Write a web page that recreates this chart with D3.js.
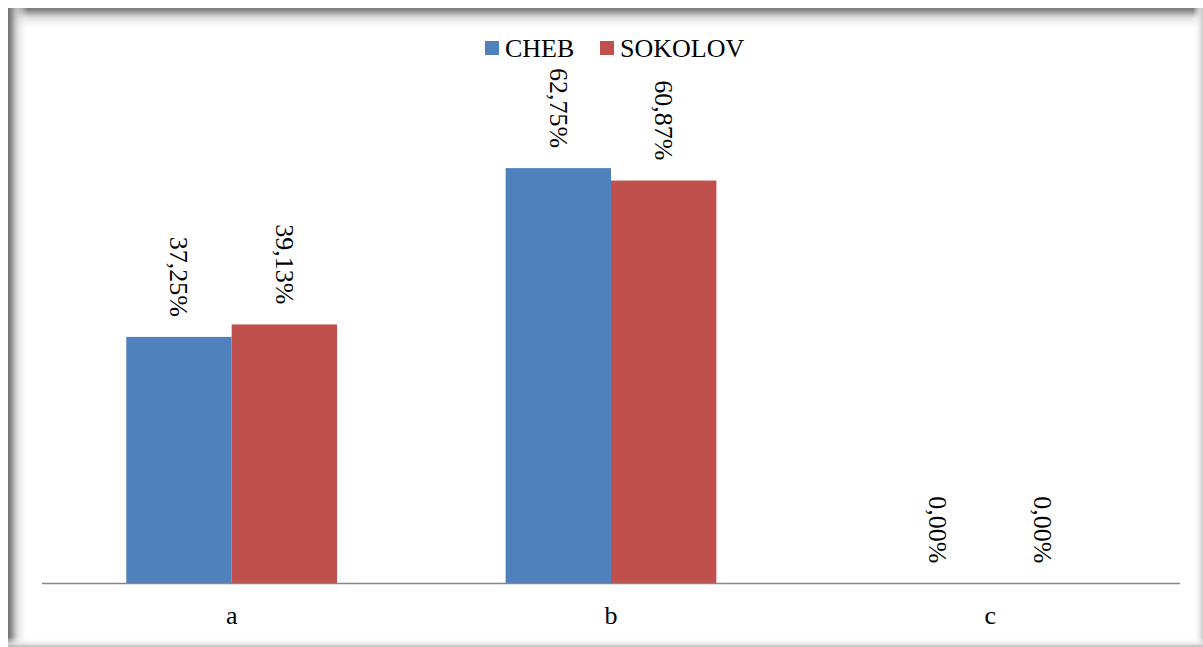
<!DOCTYPE html>
<html>
<head>
<meta charset="utf-8">
<script src="https://cdn.jsdelivr.net/npm/d3@7"></script>
<style>
  html, body { margin: 0; padding: 0; background: #ffffff; }
  svg { display: block; }
</style>
</head>
<body>
<svg id="chart" width="1203" height="647"></svg>
<script>
// Share of answers per option, by group
const categories = ["a", "b", "c"];
const seriesNames = ["CHEB", "SOKOLOV"];
const chebValues = [0.3725, 0.6275, 0.0];
const sokolovValues = [0.3913, 0.6087, 0.0];
const seriesColors = ["#4f81bd", "#c0504d"];

const W = 1203, H = 647;
const svg = d3.select("#chart");
const defs = svg.append("defs");

// Frame with a soft inner shadow along the edges
const frame = { x: 8, y: 8, w: W - 8, h: H - 8 };
svg.append("rect").attr("x", frame.x).attr("y", frame.y)
  .attr("width", frame.w).attr("height", frame.h).attr("fill", "#ffffff");

function edgeGradient(id, x1, y1, x2, y2, stops) {
  const g = defs.append("linearGradient").attr("id", id)
    .attr("x1", x1).attr("y1", y1).attr("x2", x2).attr("y2", y2);
  stops.forEach(s => g.append("stop").attr("offset", s[0])
    .attr("stop-color", s[1]).attr("stop-opacity", s[2]));
}
edgeGradient("shTop", 0, 0, 0, 1, [[0, "#7a7a7a", 1], [0.12, "#8a8a8a", 1], [0.45, "#d8d8d8", 0.8], [1, "#ffffff", 0]]);
edgeGradient("shLeft", 0, 0, 1, 0, [[0, "#707070", 1], [0.15, "#8a8a8a", 1], [0.45, "#d0d0d0", 0.8], [1, "#ffffff", 0]]);
edgeGradient("shRight", 1, 0, 0, 0, [[0, "#c8c8c8", 1], [0.4, "#e8e8e8", 0.8], [1, "#ffffff", 0]]);
edgeGradient("shBottom", 0, 1, 0, 0, [[0, "#b8b8b8", 1], [0.35, "#e6e6e6", 0.8], [1, "#ffffff", 0]]);

svg.append("rect").attr("x", frame.x).attr("y", frame.y).attr("width", frame.w).attr("height", 22).attr("fill", "url(#shTop)");
svg.append("rect").attr("x", frame.x).attr("y", frame.y).attr("width", 20).attr("height", frame.h).attr("fill", "url(#shLeft)");
svg.append("rect").attr("x", W - 10).attr("y", frame.y).attr("width", 10).attr("height", frame.h).attr("fill", "url(#shRight)");
svg.append("rect").attr("x", frame.x).attr("y", H - 10).attr("width", frame.w).attr("height", 10).attr("fill", "url(#shBottom)");

// Plot area
const plot = { left: 42, right: 1180, bottom: 583.5 };
const x0 = d3.scaleBand().domain(categories).range([plot.left, plot.right]).paddingInner(0).paddingOuter(0);
const groupPad = 0.2222; // gap of 80% of one bar width on each band
const x1 = d3.scaleBand().domain(seriesNames)
  .range([x0.bandwidth() * groupPad, x0.bandwidth() * (1 - groupPad)]);
const y = d3.scaleLinear().domain([0, 0.7]).range([plot.bottom, plot.bottom - 0.7 * 662]);

const fmt = v => (v * 100).toFixed(2).replace(".", ",") + "%";
const rows = categories.map((c, i) => ({
  cat: c,
  vals: [
    { name: seriesNames[0], v: chebValues[i], color: seriesColors[0] },
    { name: seriesNames[1], v: sokolovValues[i], color: seriesColors[1] }
  ]
}));

const groups = svg.append("g").selectAll("g").data(rows).join("g")
  .attr("transform", d => `translate(${x0(d.cat)},0)`);

groups.selectAll("rect").data(d => d.vals).join("rect")
  .attr("x", d => x1(d.name))
  .attr("y", d => y(d.v))
  .attr("width", x1.bandwidth())
  .attr("height", d => y(0) - y(d.v))
  .attr("fill", d => d.color);

// Value labels, rotated to read downward, ending just above each bar
groups.selectAll("text").data(d => d.vals).join("text")
  .attr("transform", d => `translate(${x1(d.name) + x1.bandwidth() / 2},${y(d.v) - 20}) rotate(90)`)
  .attr("text-anchor", "end")
  .attr("dy", "0.33em")
  .attr("font-family", "'Liberation Serif', 'Times New Roman', serif")
  .attr("font-size", 26)
  .attr("fill", "#000")
  .text(d => fmt(d.v));

// Category axis
const xAxis = svg.append("g").attr("transform", `translate(0,${plot.bottom})`)
  .call(d3.axisBottom(x0).tickSize(0).tickPadding(22));
xAxis.select(".domain").attr("stroke", "#868686").attr("stroke-width", 1.5)
  .attr("d", `M${plot.left},0H${plot.right}`);
xAxis.selectAll("text")
  .attr("font-family", "'Liberation Serif', 'Times New Roman', serif")
  .attr("font-size", 26).attr("fill", "#000");

// Legend
const legend = svg.append("g").attr("font-family", "'Liberation Serif', 'Times New Roman', serif")
  .attr("font-size", 26);
const legendX = [485, 600];
seriesNames.forEach((name, i) => {
  legend.append("rect").attr("x", legendX[i]).attr("y", 41).attr("width", 14).attr("height", 14)
    .attr("fill", seriesColors[i]);
  legend.append("text").attr("x", legendX[i] + 20).attr("y", 57).attr("fill", "#000").text(name);
});
</script>
</body>
</html>
